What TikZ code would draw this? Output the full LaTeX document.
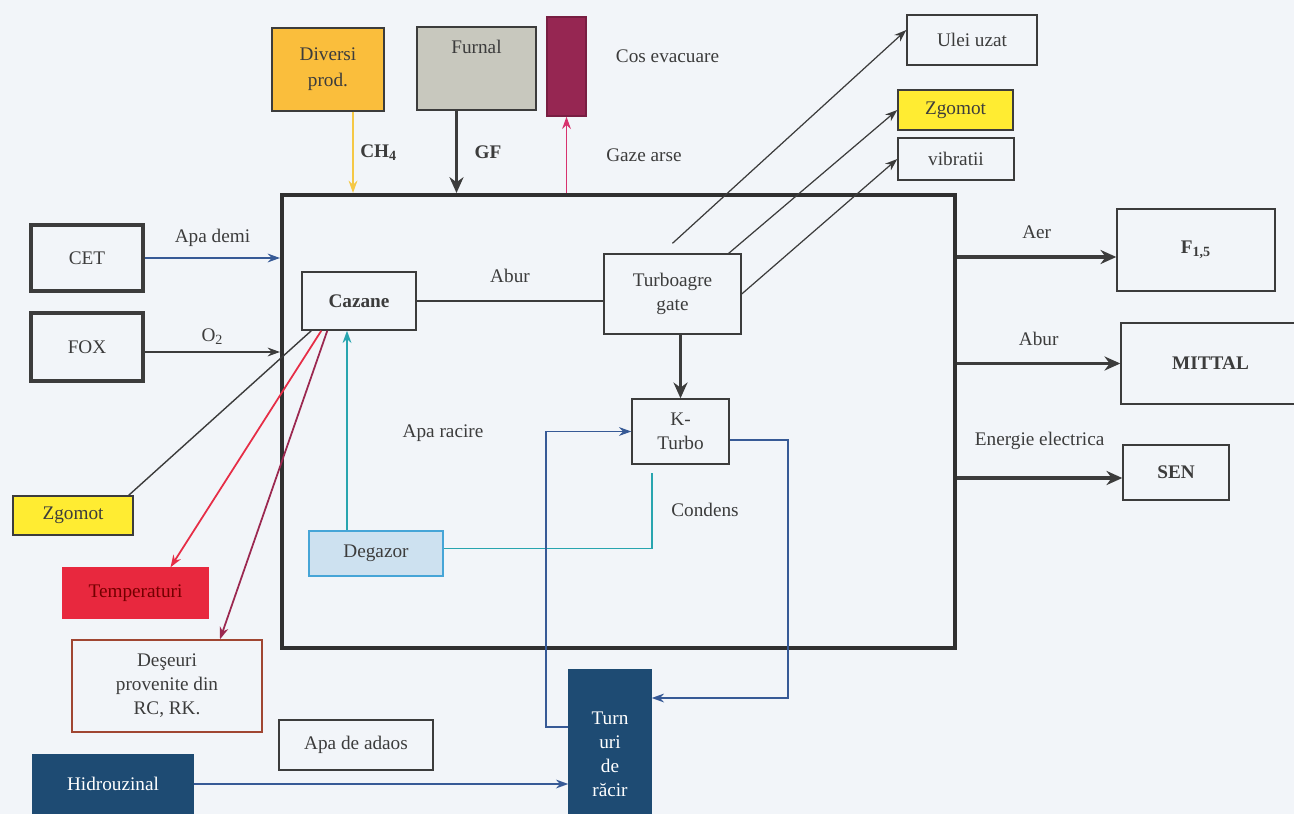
\documentclass[tikz,border=0pt,11pt]{standalone}
\usepackage{fontspec}
\setmainfont{Liberation Serif}
\usetikzlibrary{arrows.meta, positioning}

\definecolor{bgc}{RGB}{242,245,249}
\definecolor{inkc}{RGB}{60,60,60}
\definecolor{diversic}{RGB}{250,190,60}
\definecolor{furnalc}{RGB}{200,200,190}
\definecolor{cosc}{RGB}{150,38,82}
\definecolor{zgomotc}{RGB}{255,236,50}
\definecolor{tempc}{RGB}{232,40,62}
\definecolor{degc}{RGB}{205,225,240}
\definecolor{degline}{RGB}{70,165,215}
\definecolor{navyc}{RGB}{30,75,115}
\definecolor{steelc}{RGB}{55,90,150}
\definecolor{tealc}{RGB}{40,165,175}
\definecolor{desc}{RGB}{160,70,50}
\definecolor{desarr}{RGB}{155,40,80}
\definecolor{redarr}{RGB}{230,45,70}
\definecolor{ch4c}{RGB}{245,200,70}
\definecolor{gazec}{RGB}{215,50,110}

\tikzset{
  box/.style={draw=inkc, line width=0.8pt, inner sep=1pt, align=center},
  thickbox/.style={box, line width=2.3pt},
  flow/.style={line width=1pt, -{Stealth[length=7pt, width=5pt]}},
  bigflow/.style={draw=inkc, line width=2pt, -{Stealth[length=9pt, width=8pt]}}
}

\begin{document}
\begin{tikzpicture}[x=0.2mm, y=-0.2mm, text=inkc]
    % Canvas
    \useasboundingbox (0,0) rectangle (1294,814);
    \fill[bgc] (0,0) rectangle (1294,814);

    % Plant outline
    \node[draw=inkc!80!black, line width=2.3pt, minimum width=13.46cm, minimum height=9.06cm] (main) at (618.5,421.5) {};

    % Sources on top
    \node[box, fill=diversic, minimum width=2.24cm, minimum height=1.66cm] (diversi) at (328,69.5) {Diversi\\[1pt]prod.};
    \node[box, fill=furnalc, minimum width=2.38cm, minimum height=1.66cm, label={[anchor=north, yshift=-0.15cm]north:Furnal}] (furnal) at (476.5,68.5) {};
    \node[box, draw=cosc!80!black, fill=cosc, minimum width=0.78cm, minimum height=1.98cm] (cos) at (566.5,66.5) {};
    \node[right=0.45cm of cos, yshift=0.2cm] (cosl) {Cos evacuare};

    % Outputs top right
    \node[box, minimum width=2.6cm, minimum height=1cm] (ulei) at (972,40) {Ulei uzat};
    \node[box, fill=zgomotc, minimum width=2.3cm, minimum height=0.8cm] (zgsus) at (955.5,110) {Zgomot};
    \node[box, minimum width=2.32cm, minimum height=0.84cm] (vibr) at (956,159) {vibratii};

    % Left sources
    \node[thickbox, minimum width=2.24cm, minimum height=1.32cm] (cet) at (87,258) {CET};
    \node[thickbox, minimum width=2.24cm, minimum height=1.36cm] (fox) at (87,347) {FOX};

    % Inside the plant
    \node[box, minimum width=2.28cm, minimum height=1.16cm, font=\bfseries] (cazane) at (359,301) {Cazane};
    \node[box, minimum width=2.74cm, minimum height=1.6cm] (turbo) at (672.5,294) {Turboagre\\gate};
    \node[box, minimum width=1.94cm, minimum height=1.3cm] (kturbo) at (680.5,431.5) {K-\\Turbo};
    \node[box, draw=degline, line width=1.2pt, fill=degc, minimum width=2.68cm, minimum height=0.9cm] (degazor) at (376,553.5) {Degazor};
    \node (racire) at (443,433) {Apa racire};
    \node (condens) at (705,510) {Condens};

    % Left outputs
    \node[box, fill=zgomotc, minimum width=2.4cm, minimum height=0.78cm] (zgstg) at (73,515.5) {Zgomot};
    \node[box, draw=tempc, fill=tempc, text=red!45!black, minimum width=2.9cm, minimum height=1cm] (temp) at (135.5,593) {Temperaturi};
    \node[box, draw=desc, minimum width=3.8cm, minimum height=1.84cm] (deseuri) at (167,686) {Deşeuri\\provenite din\\RC, RK.};

    % Water
    \node[box, minimum width=3.08cm, minimum height=1cm] (adaos) at (356,745) {Apa de adaos};
    \node[box, draw=navyc, fill=navyc, text=white, minimum width=3.2cm, minimum height=1.16cm] (hidro) at (113,784) {Hidrouzinal};
    \node[box, draw=navyc, fill=navyc, text=white, minimum width=1.64cm, minimum height=3.36cm] (turnuri) at (610,754) {Turn\\uri\\de\\răcir};

    % Consumers on the right
    \node[box, minimum width=3.16cm, minimum height=1.64cm] (f15) at (1196,250) {\textbf{F\textsubscript{1,5}}};
    \node[box, minimum width=3.58cm, minimum height=1.62cm, font=\bfseries] (mittal) at (1210.5,363.5) {MITTAL};
    \node[box, minimum width=2.12cm, minimum height=1.1cm, font=\bfseries] (sen) at (1176,472.5) {SEN};

    % Gas and fuel
    \draw[flow, draw=ch4c] ([xshift=0.5cm]diversi.south) -- ([xshift=0.5cm]diversi.south |- main.north) node[midway, right, font=\bfseries] {CH\textsubscript{4}};
    \draw[bigflow] ([xshift=-0.4cm]furnal.south) -- ([xshift=-0.4cm]furnal.south |- main.north) node[midway, right=0.2cm, font=\bfseries] {GF};
    \draw[flow, draw=gazec] (cos.south |- main.north) -- (cos.south) node[midway, right=0.65cm] {Gaze arse};

    % Water and oxygen in
    \draw[flow, draw=steelc] (cet.east) -- (cet.east -| main.west) node[midway, above=0.08cm] {Apa demi};
    \draw[flow, draw=inkc] ([yshift=-0.1cm]fox.east) -- ([yshift=-0.1cm]fox.east -| main.west) node[midway, above] {O\textsubscript{2}};

    % Steam path
    \draw[draw=inkc, line width=1.6pt] (cazane.east) -- (cazane.east -| turbo.west) node[midway, above=0.2cm] {Abur};
    \draw[bigflow] (turbo.south -| kturbo.north) -- (kturbo.north);
    \draw[flow, draw=inkc, line width=0.7pt] ([yshift=0.2cm]turbo.north) -- ([yshift=0.2cm]ulei.west);
    \draw[flow, draw=inkc, line width=0.7pt] ([xshift=-0.26cm]turbo.north east) -- (zgsus.west);
    \draw[flow, draw=inkc, line width=0.7pt] (turbo.east) -- (vibr.west);

    % Feed water
    \draw[flow, draw=tealc] ([xshift=-0.58cm]degazor.north) -- ([xshift=-0.58cm]degazor.north |- cazane.south);
    \draw[draw=tealc, line width=1pt] ([yshift=0.1cm]degazor.east) -| ([xshift=-0.57cm, yshift=-0.16cm]kturbo.south);

    % Cooling loop
    \draw[flow, draw=steelc] ([yshift=0.54cm]turnuri.west) -- ++(-22,0) |- (kturbo.west);
    \draw[flow, draw=steelc] ([yshift=-0.17cm]kturbo.east) -- ++(58,0) |- ([yshift=1.12cm]turnuri.east);
    \draw[flow, draw=steelc] (hidro.east) -- (hidro.east -| turnuri.west);

    % Losses from the boilers
    \draw[draw=inkc, line width=0.8pt] ([xshift=-0.1cm]zgstg.north east) -- ([xshift=0.2cm]cazane.south west);
    \draw[flow, draw=redarr] ([xshift=0.4cm]cazane.south west) -- ([xshift=0.7cm]temp.north);
    \draw[flow, draw=desarr] ([xshift=0.52cm]cazane.south west) -- ([xshift=1.06cm]deseuri.north);

    % Deliveries
    \draw[bigflow] ([yshift=-0.14cm]main.east |- f15.west) -- ([yshift=-0.14cm]f15.west) node[midway, above=0.2cm] {Aer};
    \draw[bigflow] (main.east |- mittal.west) -- (mittal.west) node[midway, above=0.2cm] {Abur};
    \draw[bigflow] ([yshift=-0.11cm]main.east |- sen.west) -- ([yshift=-0.11cm]sen.west) node[midway, above=0.4cm] {Energie electrica};
\end{tikzpicture}
\end{document}
